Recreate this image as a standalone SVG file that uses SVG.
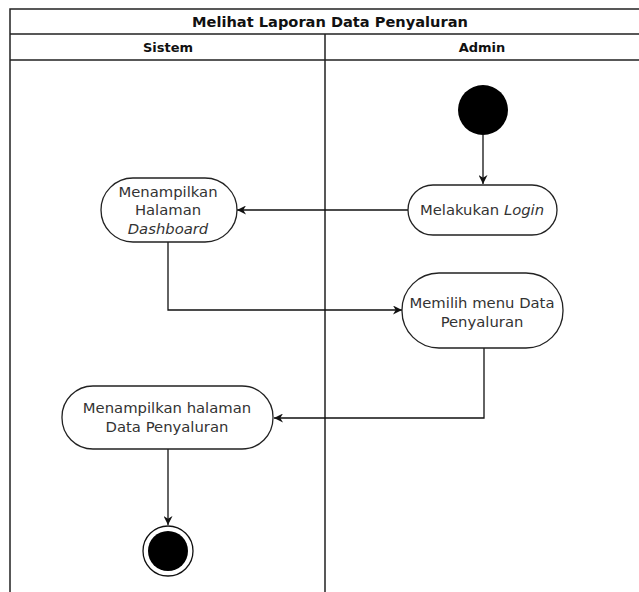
<svg xmlns="http://www.w3.org/2000/svg" width="639" height="592" viewBox="0 0 639 592">
<style>
.lane{fill:none;stroke:#222;stroke-width:1.5}
.node{fill:#fff;stroke:#222;stroke-width:1.3}
.t{font-family:"DejaVu Sans",Verdana,sans-serif;font-size:14.8px;fill:#333;text-anchor:middle}
.h{font-family:"DejaVu Sans",Verdana,sans-serif;font-weight:bold;font-size:13px;fill:#111;text-anchor:middle}
.title{font-size:14.6px}
.c{fill:none;stroke:#111;stroke-width:1.3}
</style>
<defs>
<marker id="arr" viewBox="0 0 10 10" refX="10" refY="5" markerWidth="9" markerHeight="9" markerUnits="userSpaceOnUse" orient="auto">
<path d="M0,0 L10,5 L0,10 L3,5 Z" fill="#111"/>
</marker>
</defs>
<rect width="639" height="592" fill="#fff"/>
<g id="pool">
<path class="lane" d="M10,592 V9 H645 M10,34 H645 M10,60 H645 M325,34 V592"/>
<text class="h title" x="330" y="27">Melihat Laporan Data Penyaluran</text>
<text class="h" x="168" y="52">Sistem</text>
<text class="h" x="482" y="52">Admin</text>
</g>
<g id="connectors">
<path class="c" d="M483,135 V184" marker-end="url(#arr)"/>
<path class="c" d="M408,210 H237" marker-end="url(#arr)"/>
<path class="c" d="M168,242 V310 H402" marker-end="url(#arr)"/>
<path class="c" d="M484,348 V418 H274" marker-end="url(#arr)"/>
<path class="c" d="M168,449 V525" marker-end="url(#arr)"/>
</g>
<g id="start"><circle cx="483" cy="110" r="25" fill="#000"/></g>
<g id="login">
<rect class="node" x="408" y="185" width="149" height="50" rx="25"/>
<text class="t" x="482" y="215">Melakukan <tspan font-style="italic">Login</tspan></text>
</g>
<g id="dashboard">
<rect class="node" x="101" y="178" width="136" height="64" rx="32"/>
<text class="t" x="168" y="197">Menampilkan</text>
<text class="t" x="168" y="215">Halaman</text>
<text class="t" x="168" y="234" font-style="italic">Dashboard</text>
</g>
<g id="memilih">
<rect class="node" x="402" y="273" width="161" height="75" rx="37"/>
<text class="t" x="482" y="308">Memilih menu Data</text>
<text class="t" x="482" y="327">Penyaluran</text>
</g>
<g id="tampil">
<rect class="node" x="62" y="386" width="211" height="63" rx="31"/>
<text class="t" x="167" y="413">Menampilkan halaman</text>
<text class="t" x="167" y="432">Data Penyaluran</text>
</g>
<g id="end">
<circle cx="168" cy="551" r="25" fill="#fff" stroke="#111" stroke-width="1.3"/>
<circle cx="168" cy="551" r="20" fill="#000"/>
</g>
</svg>
